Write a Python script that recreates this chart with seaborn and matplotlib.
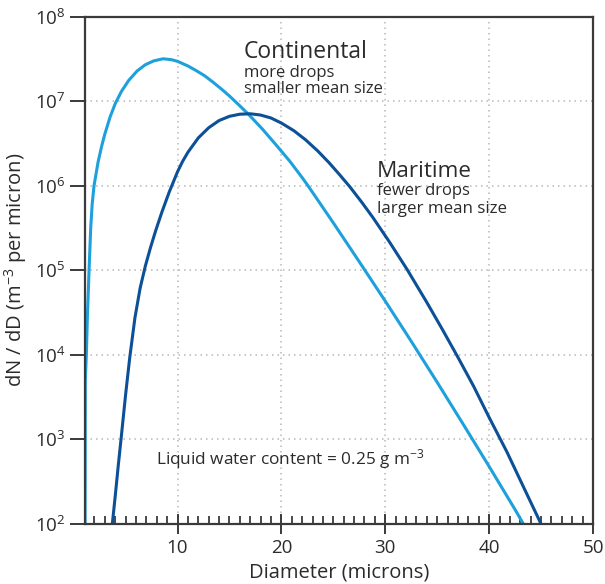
import numpy as np
import pandas as pd
import matplotlib
matplotlib.use("Agg")
import matplotlib.pyplot as plt
import seaborn as sns
from matplotlib.ticker import FixedLocator, MultipleLocator, NullLocator, LogFormatterMathtext

# ---- data (diameter in microns, dN/dD as powers of ten) ----
cont_d = [1.10, 1.12, 1.22, 1.32, 1.48, 1.64, 1.78, 1.96, 2.35, 2.7, 3.0, 3.5, 4.0, 4.6,
          5.3, 6.1, 6.9, 7.7, 8.6, 9.4, 10.0, 11.0, 11.8, 12.6, 13.4, 14.2, 15.0, 15.9,
          16.9, 18.2, 19.5, 20.8, 22.0, 22.5, 25.0, 27.5, 30.0, 32.5, 35.0, 37.5, 40.0,
          42.5, 43.3]
cont_exp = [2.0, 3.7, 4.0, 4.45, 5.0, 5.5, 5.78, 6.0, 6.28, 6.47, 6.61, 6.81, 6.97, 7.115,
            7.245, 7.355, 7.43, 7.475, 7.50, 7.49, 7.47, 7.415, 7.36, 7.30, 7.225, 7.145,
            7.06, 6.955, 6.835, 6.665, 6.48, 6.29, 6.095, 6.01, 5.56, 5.10, 4.635, 4.16,
            3.675, 3.18, 2.68, 2.17, 2.0]

mari_d = [3.72, 4.0, 4.3, 4.6, 5.0, 5.4, 5.9, 6.4, 6.9, 7.4, 7.9, 8.5, 9.2, 10.0, 10.5,
          11.0, 12.0, 13.0, 14.0, 15.0, 16.0, 17.0, 18.0, 19.0, 20.0, 21.2, 22.35, 23.5,
          24.6, 25.6, 26.6, 27.7, 28.8, 30.4, 32.1, 34.0, 35.5, 37.0, 38.5, 40.0, 41.7,
          43.3, 45.0]
mari_exp = [2.00, 2.33, 2.70, 3.05, 3.53, 3.97, 4.44, 4.79, 5.05, 5.27, 5.47, 5.69, 5.925,
            6.165, 6.29, 6.395, 6.565, 6.685, 6.77, 6.82, 6.845, 6.85, 6.835, 6.80, 6.74,
            6.65, 6.54, 6.41, 6.27, 6.13, 5.985, 5.81, 5.625, 5.335, 5.01, 4.62, 4.30,
            3.97, 3.63, 3.26, 2.855, 2.44, 2.0]

x_ticks = [10, 20, 30, 40, 50]
x_tick_labels = ["10", "20", "30", "40", "50"]
y_decades = [2, 3, 4, 5, 6, 7, 8]

series_names = ["Continental", "Maritime"]
series_colors = {"Continental": "#1ea0dc", "Maritime": "#0c5097"}

df = pd.concat([
    pd.DataFrame({"D": cont_d, "n": 10.0 ** np.array(cont_exp), "type": "Continental"}),
    pd.DataFrame({"D": mari_d, "n": 10.0 ** np.array(mari_exp), "type": "Maritime"}),
], ignore_index=True)

sns.set_style("ticks")
plt.rcParams["font.family"] = ["Open Sans", "DejaVu Sans"]
plt.rcParams["mathtext.fontset"] = "custom"
plt.rcParams["mathtext.rm"] = "Open Sans"
plt.rcParams["mathtext.it"] = "Open Sans:italic"
plt.rcParams["mathtext.bf"] = "Open Sans:bold"

TXT = "#2b2b2b"
SP = "#3a3a3a"

fig = plt.figure(figsize=(6.05, 5.84), dpi=100)
ax = fig.add_axes([85 / 605, 1 - 524 / 584, (593 - 85) / 605, (524 - 16.5) / 584])
ax.set_yscale("log")

sns.lineplot(data=df, x="D", y="n", hue="type", hue_order=series_names,
             palette=series_colors, estimator=None, sort=False, lw=2.2,
             legend=False, ax=ax)
for ln in ax.lines:
    ln.set_solid_joinstyle("round")
    ln.set_solid_capstyle("butt")

ax.set_xlim(1.09, 50)
ax.set_ylim(1e2, 1e8)

ax.xaxis.set_major_locator(FixedLocator(x_ticks))
ax.set_xticklabels(x_tick_labels)
ax.xaxis.set_minor_locator(MultipleLocator(1))
ax.yaxis.set_major_locator(FixedLocator([10.0 ** e for e in y_decades]))
ax.yaxis.set_major_formatter(LogFormatterMathtext())
ax.yaxis.set_minor_locator(NullLocator())

ax.tick_params(axis="x", which="major", direction="inout", length=15, width=1.4,
               color=SP, labelsize=13.5, labelcolor=TXT, pad=3, top=False)
ax.tick_params(axis="x", which="minor", direction="in", length=6, width=1.3,
               color=SP, top=False)
ax.tick_params(axis="y", which="major", direction="out", length=11, width=1.4,
               color=SP, labelsize=13.5, labelcolor=TXT, pad=3, right=False)

for s in ax.spines.values():
    s.set_visible(True)
    s.set_linewidth(1.6)
    s.set_color(SP)

ax.set_axisbelow(True)
ax.grid(True, which="major", linestyle=(0, (1, 2.6)), linewidth=1.1, color="#b8b8b8")

ax.set_xlabel("Diameter (microns)", fontsize=14.5, color=TXT, labelpad=4)
ax.set_ylabel("dN / dD (m$^{-3}$ per micron)", fontsize=14.5, color=TXT, labelpad=4)

ax.text(16.4, 10 ** 7.505, "Continental", fontsize=16.5, color=TXT, ha="left", va="baseline")
ax.text(16.4, 10 ** 7.29, "more drops", fontsize=12, color=TXT, ha="left", va="baseline")
ax.text(16.4, 10 ** 7.09, "smaller mean size", fontsize=12, color=TXT, ha="left", va="baseline")

ax.text(29.2, 10 ** 6.104, "Maritime", fontsize=16.2, color=TXT, ha="left", va="baseline")
ax.text(29.2, 10 ** 5.89, "fewer drops", fontsize=12, color=TXT, ha="left", va="baseline")
ax.text(29.2, 10 ** 5.675, "larger mean size", fontsize=12.2, color=TXT, ha="left", va="baseline")

ax.text(7.93, 10 ** 2.71, "Liquid water content = 0.25 g m$^{-3}$", fontsize=12.4,
        color=TXT, ha="left", va="baseline")

fig.savefig("out.png", dpi=100)
